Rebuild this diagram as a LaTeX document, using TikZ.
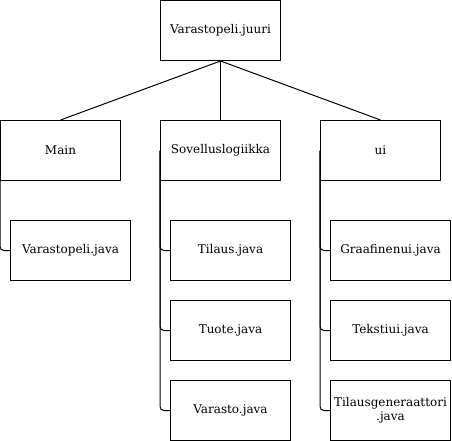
\documentclass[tikz,border=0pt]{standalone}
\usepackage{fontspec}
\setmainfont{DejaVu Serif}
\begin{document}
\begin{tikzpicture}[x=1pt, y=-1pt, line width=1pt,
    box/.style={draw, minimum width=120pt, minimum height=60pt, inner sep=0pt,
        align=center, font=\fontsize{12}{14}\selectfont}]
    \useasboundingbox (0,0) rectangle (452,441);
    % packages
    \node[box] (juuri) at (220.5,30.5) {Varastopeli.juuri};
    \node[box] (main) at (60.5,150.5) {Main};
    \node[box] (logiikka) at (220.5,150.5) {Sovelluslogiikka};
    \node[box] (ui) at (380.5,150.5) {ui};
    % classes
    \node[box] (varastopeli) at (70.5,250.5) {Varastopeli.java};
    \node[box] (tilaus) at (230.5,250.5) {Tilaus.java};
    \node[box] (tuote) at (230.5,330.5) {Tuote.java};
    \node[box] (varasto) at (230.5,410.5) {Varasto.java};
    \node[box] (graafinen) at (390.5,250.5) {Graafinenui.java};
    \node[box] (teksti) at (390.5,330.5) {Tekstiui.java};
    \node[box] (generaattori) at (390.5,410.5) {Tilausgeneraattori\\.java};
    \draw (juuri.south) -- (main.north);
    \draw (juuri.south) -- (logiikka.north);
    \draw (juuri.south) -- (ui.north);
    \draw[rounded corners=4pt] (main.west) |- (varastopeli.west);
    \draw[rounded corners=4pt] (logiikka.west) |- (tilaus.west);
    \draw[rounded corners=4pt] (logiikka.west) |- (tuote.west);
    \draw[rounded corners=4pt] (logiikka.west) |- (varasto.west);
    \draw[rounded corners=4pt] (ui.west) |- (graafinen.west);
    \draw[rounded corners=4pt] (ui.west) |- (teksti.west);
    \draw[rounded corners=4pt] (ui.west) |- (generaattori.west);
\end{tikzpicture}
\end{document}
